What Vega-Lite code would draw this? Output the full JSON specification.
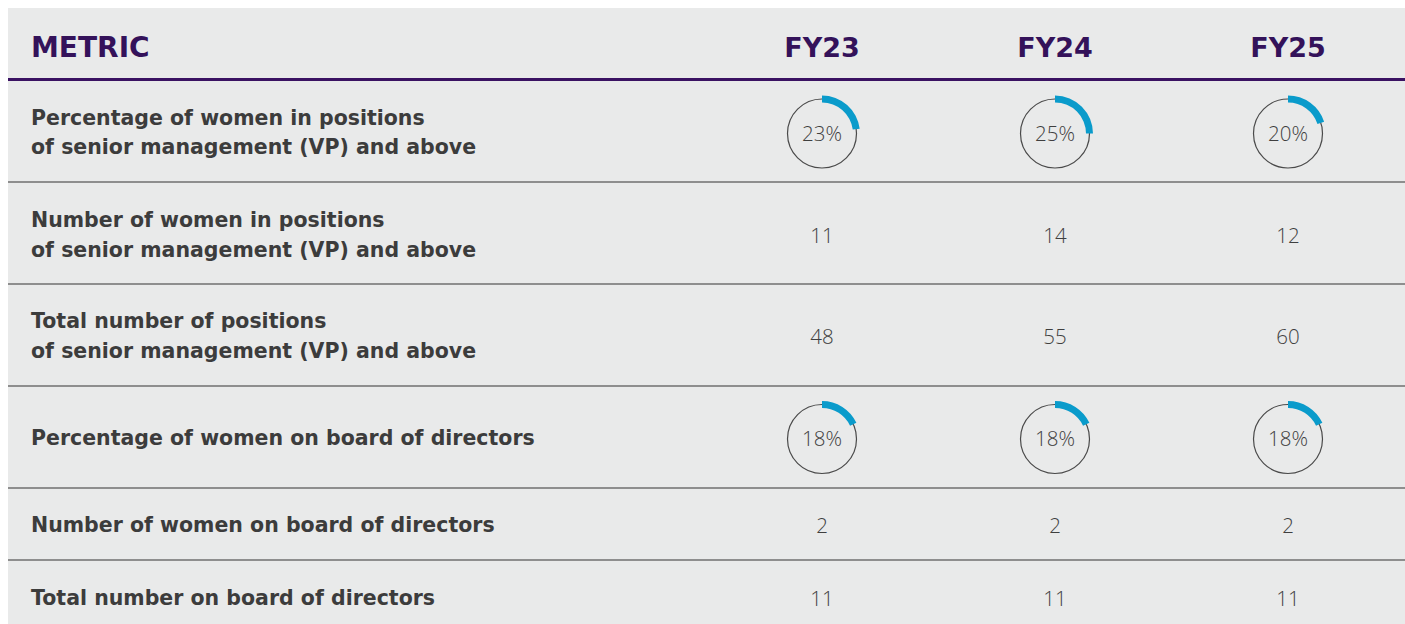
{
  "$schema": "https://vega.github.io/schema/vega-lite/v6.json",
  "width": 1397,
  "height": 616,
  "padding": {"left": 8, "top": 8, "right": 0, "bottom": 0},
  "autosize": {"type": "none"},
  "background": "#ffffff",
  "config": {"view": {"fill": "#e9eaea", "stroke": null}},
  "encoding": {
    "y": {"field": "row", "type": "quantitative", "axis": null, "stack": null,
          "scale": {"domain": [0, 0.5, 1, 1.5, 2, 2.5, 3, 3.5, 4, 4.5, 5, 5.5, 6],
                    "range": [41, 71.5, 125.5, 174, 228, 276, 329, 378, 431, 480, 518, 552, 591],
                    "nice": false, "zero": false}}
  },
  "datasets": {
    "headers": [
      {"row": 0, "year": "FY23"},
      {"row": 0, "year": "FY24"},
      {"row": 0, "year": "FY25"}
    ],
    "metrics": [
      {"row": 0, "label": "METRIC"}
    ],
    "labels": [
      {"row": 1, "label": ["Percentage of women in positions", "of senior management (VP) and above"]},
      {"row": 2, "label": ["Number of women in positions", "of senior management (VP) and above"]},
      {"row": 3, "label": ["Total number of positions", "of senior management (VP) and above"]},
      {"row": 4, "label": "Percentage of women on board of directors"},
      {"row": 5, "label": "Number of women on board of directors"},
      {"row": 6, "label": "Total number on board of directors"}
    ],
    "cells": [
      {"row": 1, "year": "FY23", "value": "23%", "pct": 23},
      {"row": 1, "year": "FY24", "value": "25%", "pct": 25},
      {"row": 1, "year": "FY25", "value": "20%", "pct": 20},
      {"row": 2, "year": "FY23", "value": "11"},
      {"row": 2, "year": "FY24", "value": "14"},
      {"row": 2, "year": "FY25", "value": "12"},
      {"row": 3, "year": "FY23", "value": "48"},
      {"row": 3, "year": "FY24", "value": "55"},
      {"row": 3, "year": "FY25", "value": "60"},
      {"row": 4, "year": "FY23", "value": "18%", "pct": 18},
      {"row": 4, "year": "FY24", "value": "18%", "pct": 18},
      {"row": 4, "year": "FY25", "value": "18%", "pct": 18},
      {"row": 5, "year": "FY23", "value": "2"},
      {"row": 5, "year": "FY24", "value": "2"},
      {"row": 5, "year": "FY25", "value": "2"},
      {"row": 6, "year": "FY23", "value": "11"},
      {"row": 6, "year": "FY24", "value": "11"},
      {"row": 6, "year": "FY25", "value": "11"}
    ],
    "separators": [
      {"row": 0.5, "kind": "header"},
      {"row": 1.5, "kind": "body"},
      {"row": 2.5, "kind": "body"},
      {"row": 3.5, "kind": "body"},
      {"row": 4.5, "kind": "body"},
      {"row": 5.5, "kind": "body"}
    ]
  },
  "layer": [
    {
      "data": {"name": "separators"},
      "transform": [{"filter": "datum.kind == 'body'"}],
      "mark": {"type": "rule", "color": "#8e8e8e", "strokeWidth": 2},
      "encoding": {}
    },
    {
      "data": {"name": "separators"},
      "transform": [{"filter": "datum.kind == 'header'"}],
      "mark": {"type": "rule", "color": "#3a1262", "strokeWidth": 3},
      "encoding": {}
    },
    {
      "data": {"name": "metrics"},
      "mark": {"type": "text", "align": "left", "baseline": "middle", "font": "DejaVu Sans", "fontWeight": "bold", "fontSize": 28, "color": "#34125a", "x": 23},
      "encoding": {"text": {"field": "label"}}
    },
    {
      "data": {"name": "headers"},
      "mark": {"type": "text", "align": "center", "baseline": "middle", "font": "DejaVu Sans", "fontWeight": "bold", "fontSize": 27, "color": "#34125a"},
      "encoding": {
        "x": {"field": "year", "type": "nominal", "axis": null,
              "scale": {"type": "point", "domain": ["FY23", "FY24", "FY25"], "range": [814, 1280], "padding": 0}},
        "text": {"field": "year"}
      }
    },
    {
      "data": {"name": "labels"},
      "transform": [{"filter": "datum.row <= 3"}],
      "mark": {"type": "text", "align": "left", "baseline": "middle", "font": "DejaVu Sans", "fontWeight": "bold", "fontSize": 20.5, "lineHeight": 29.5, "dy": -14.75, "color": "#3c3c3c", "x": 23},
      "encoding": {"text": {"field": "label"}}
    },
    {
      "data": {"name": "labels"},
      "transform": [{"filter": "datum.row > 3"}],
      "mark": {"type": "text", "align": "left", "baseline": "middle", "font": "DejaVu Sans", "fontWeight": "bold", "fontSize": 20.5, "color": "#3c3c3c", "x": 23},
      "encoding": {"text": {"field": "label"}}
    },
    {
      "data": {"name": "cells"},
      "transform": [{"filter": "isValid(datum.pct)"}],
      "mark": {"type": "point", "shape": "circle", "filled": false, "size": 4761, "stroke": "#4a4a4a", "strokeWidth": 1.2, "opacity": 1},
      "encoding": {
        "x": {"field": "year", "type": "nominal", "axis": null,
              "scale": {"type": "point", "domain": ["FY23", "FY24", "FY25"], "range": [814, 1280], "padding": 0}}
      }
    },
    {
      "data": {"name": "cells"},
      "transform": [{"filter": "isValid(datum.pct)"}],
      "mark": {"type": "arc", "innerRadius": 31, "outerRadius": 38, "color": "#0a9bcb"},
      "encoding": {
        "x": {"field": "year", "type": "nominal", "axis": null,
              "scale": {"type": "point", "domain": ["FY23", "FY24", "FY25"], "range": [814, 1280], "padding": 0}},
        "y": {"field": "row", "type": "quantitative", "axis": null, "stack": null},
        "theta": {"field": "pct", "type": "quantitative", "stack": null,
                  "scale": {"domain": [0, 100], "range": [0, 6.283185], "zero": true, "nice": false}}
      }
    },
    {
      "data": {"name": "cells"},
      "mark": {"type": "text", "align": "center", "baseline": "middle", "font": "Open Sans", "fontWeight": 300, "fontSize": 20.5, "color": "#3f3f3f", "dy": 1},
      "encoding": {
        "x": {"field": "year", "type": "nominal", "axis": null,
              "scale": {"type": "point", "domain": ["FY23", "FY24", "FY25"], "range": [814, 1280], "padding": 0}},
        "text": {"field": "value"}
      }
    }
  ]
}
